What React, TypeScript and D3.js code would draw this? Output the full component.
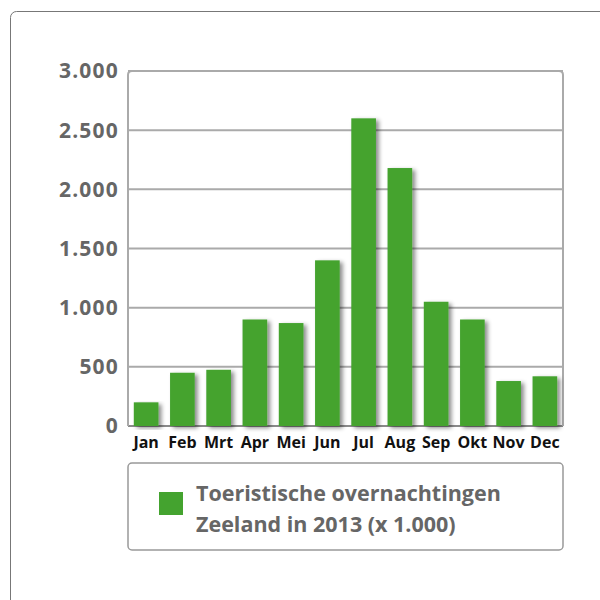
import React from "react";
import * as d3 from "d3";

// data (x 1.000 overnachtingen)
const months = ["Jan", "Feb", "Mrt", "Apr", "Mei", "Jun", "Jul", "Aug", "Sep", "Okt", "Nov", "Dec"];
const values = [200, 450, 475, 900, 870, 1400, 2600, 2180, 1050, 900, 380, 420];
const yTicks = [0, 500, 1000, 1500, 2000, 2500, 3000];
const legendLines = ["Toeristische overnachtingen", "Zeeland in 2013 (x 1.000)"];

const W = 600;
const H = 600;
const plot = { left: 128, right: 563, top: 71, bottom: 426 };
const green = "#44a32f";
const grey = "#666";
const font = "'Open Sans', Lato, sans-serif";

const fmt = (v: number) => (v >= 1000 ? d3.format(",")(v).replace(",", ".") : String(v));

export default function App() {
  const x = d3
    .scaleBand()
    .domain(months)
    .range([plot.left, plot.right])
    .paddingInner(0.32)
    .paddingOuter(0.16);

  const y = d3.scaleLinear().domain([0, 3000]).range([plot.bottom, plot.top]);

  return (
    <svg
      width={W}
      height={H}
      style={{ position: "absolute", left: 0, top: 0, background: "#fff" }}
    >
      <defs>
        <filter id="shadow" x="-20%" y="-5%" width="160%" height="120%">
          <feDropShadow dx="3" dy="2" stdDeviation="2" floodColor="#000" floodOpacity="0.45" />
        </filter>
      </defs>

      {/* outer frame, runs off the page */}
      <rect x={10.5} y={11.5} width={640} height={640} rx={6} fill="none" stroke="#777" strokeWidth={1} />

      {/* grid lines */}
      {yTicks.map((t) => (
        <line
          key={t}
          x1={plot.left}
          x2={plot.right}
          y1={y(t)}
          y2={y(t)}
          stroke={t === 0 ? "#8a8a8a" : "#aaa"}
          strokeWidth={2}
        />
      ))}
      {/* plot border */}
      <path
        d={`M${plot.left},${plot.bottom} V${plot.top + 4} Q${plot.left},${plot.top} ${plot.left + 4},${plot.top} H${plot.right - 4} Q${plot.right},${plot.top} ${plot.right},${plot.top + 4} V${plot.bottom}`}
        fill="none"
        stroke="#aaa"
        strokeWidth={2}
      />

      {/* y labels */}
      {yTicks.map((t) => (
        <text
          key={t}
          x={119}
          y={y(t)}
          dy="0.35em"
          textAnchor="end"
          fontFamily={font}
          fontWeight={700}
          fontSize={21}
          letterSpacing={1.2}
          fill={grey}
        >
          {fmt(t)}
        </text>
      ))}

      {/* bars */}
      {months.map((m, i) => (
        <rect
          key={m}
          x={x(m)}
          y={y(values[i])}
          width={x.bandwidth()}
          height={y(0) - y(values[i])}
          fill={green}
          filter="url(#shadow)"
        />
      ))}

      {/* x labels */}
      {months.map((m) => (
        <text
          key={m}
          x={(x(m) as number) + x.bandwidth() / 2}
          y={448}
          textAnchor="middle"
          fontFamily={font}
          fontWeight={700}
          fontSize={16}
          fill="#111"
        >
          {m}
        </text>
      ))}

      {/* legend */}
      <rect x={128} y={463} width={435} height={87} rx={4} fill="#fff" stroke="#999" strokeWidth={1.5} />
      <rect x={159} y={492} width={24} height={23} fill={green} />
      {legendLines.map((l, i) => (
        <text
          key={l}
          x={196}
          y={501 + i * 31}
          fontFamily={font}
          fontWeight={700}
          fontSize={21.5}
          fill={grey}
        >
          {l}
        </text>
      ))}
    </svg>
  );
}
